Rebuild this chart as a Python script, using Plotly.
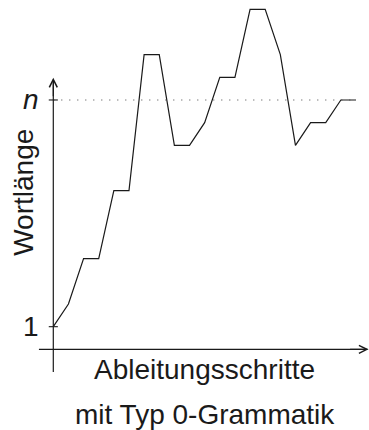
import plotly.graph_objects as go

# derivation steps and word lengths (n = 11)
steps = list(range(21))
word_length = [1, 2, 4, 4, 7, 7, 13, 13, 9, 9, 10, 12, 12, 15, 15, 13, 9, 10, 10, 11, 11]
n_value = 11
tick_values = [1, n_value]
tick_labels = ["1", "<i>n</i>"]
x_title_lines = ["Ableitungsschritte", "mit Typ 0-Grammatik"]
y_title = "Wortlänge"

FONT = "Liberation Sans, Arial, sans-serif"
INK = "#1a1a1a"

fig = go.Figure()

fig.add_trace(go.Scatter(
    x=steps, y=word_length, mode="lines",
    line=dict(color=INK, width=1.2), hoverinfo="skip", showlegend=False,
))

shapes = []
# dotted reference line at n
shapes.append(dict(type="line", xref="x", yref="y", x0=steps[0], x1=steps[-1],
                   y0=n_value, y1=n_value,
                   line=dict(color="#444", width=1.2, dash="1px,7px")))
# tick marks
for tv in tick_values:
    shapes.append(dict(type="line", xref="x", yref="y", x0=-0.3, x1=0.3,
                       y0=tv, y1=tv, line=dict(color=INK, width=1.1)))
# axis lines
shapes.append(dict(type="line", xref="x", yref="y", x0=-0.95, x1=20.75, y0=0, y1=0,
                   line=dict(color=INK, width=1.2)))
shapes.append(dict(type="line", xref="x", yref="y", x0=0, x1=0, y0=-1, y1=11.9,
                   line=dict(color=INK, width=1.2)))

annotations = []
# arrow heads
annotations.append(dict(x=0, y=11.98, ax=0, ay=20, xref="x", yref="y",
                        text="", showarrow=True, arrowhead=5, arrowsize=1.3,
                        arrowwidth=1.2, arrowcolor=INK))
annotations.append(dict(x=20.83, y=0, ax=-20, ay=0, xref="x", yref="y",
                        text="", showarrow=True, arrowhead=5, arrowsize=1.3,
                        arrowwidth=1.2, arrowcolor=INK))
# tick labels
for tv, tl in zip(tick_values, tick_labels):
    annotations.append(dict(x=-0.8, y=tv, xref="x", yref="y", text=tl, showarrow=False,
                            xanchor="right", yanchor="middle",
                            font=dict(family=FONT, size=28, color=INK)))
# axis titles
annotations.append(dict(x=0.554, y=1 - 369.3 / 430, xref="paper", yref="paper",
                        text=x_title_lines[0], showarrow=False,
                        xanchor="center", yanchor="middle",
                        font=dict(family=FONT, size=28, color=INK)))
annotations.append(dict(x=0.556, y=1 - 414.3 / 430, xref="paper", yref="paper",
                        text=x_title_lines[1], showarrow=False,
                        xanchor="center", yanchor="middle",
                        font=dict(family=FONT, size=28, color=INK)))
annotations.append(dict(x=23.3 / 369, y=1 - 192.5 / 430, xref="paper", yref="paper",
                        text=y_title, textangle=-90, showarrow=False,
                        xanchor="center", yanchor="middle",
                        font=dict(family=FONT, size=28, color=INK)))

fig.update_layout(
    width=369, height=430,
    margin=dict(l=0, r=0, t=0, b=0),
    paper_bgcolor="white", plot_bgcolor="white",
    xaxis=dict(visible=False, range=[-3.522, 20.859]),
    yaxis=dict(visible=False, range=[-3.557, 15.41]),
    shapes=shapes, annotations=annotations,
    showlegend=False,
)

fig.write_html(
    "out.html",
    config={"displayModeBar": False},
    post_script="document.body.style.margin='0';document.body.style.overflow='hidden';",
)
